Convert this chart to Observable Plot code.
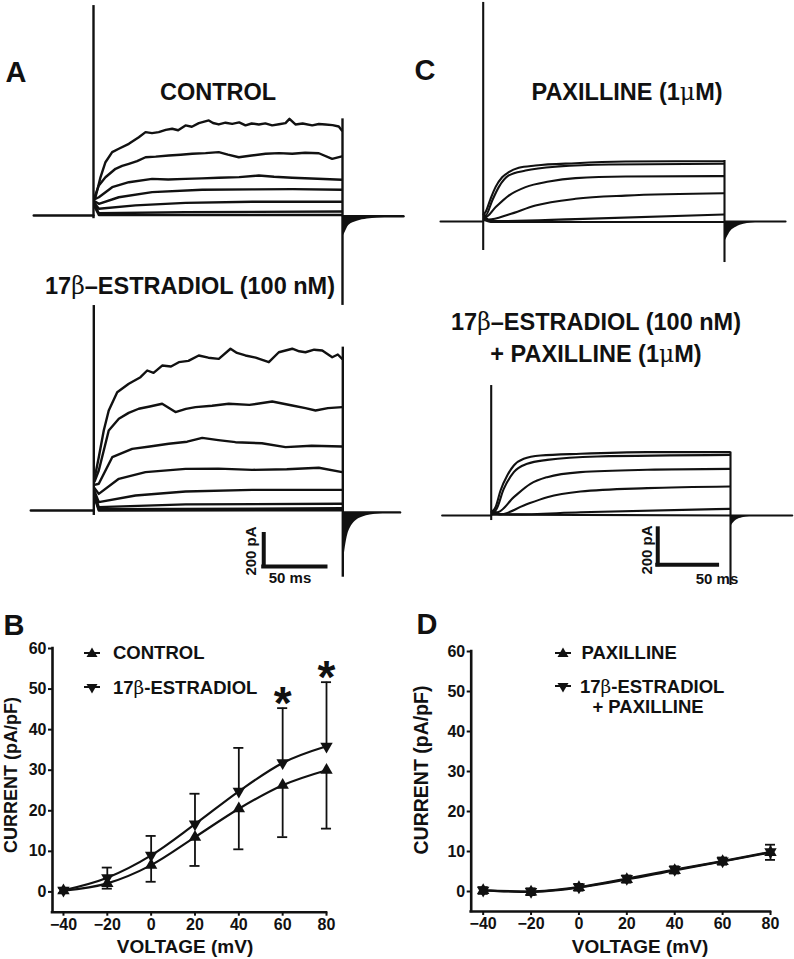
<!DOCTYPE html>
<html><head><meta charset="utf-8">
<script src="https://cdn.jsdelivr.net/npm/d3@7"></script>
<script src="https://cdn.jsdelivr.net/npm/@observablehq/plot@0.6"></script>
<style>
body{margin:0;background:#fff}
#fig{position:relative;width:794px;height:959px;overflow:hidden;background:#fff;font-family:"Liberation Sans",Arial,sans-serif;font-weight:bold;color:#111}
.abs{position:absolute}
.lbl{position:absolute;white-space:nowrap;line-height:1}
.g{font-family:"DejaVu Serif","Liberation Serif",serif;font-weight:normal}
</style></head><body><div id="fig"></div><script>
// ---------- Panel A: CONTROL traces [time ms, current pA] ----------
const ctrlTraces = [
 [[0.6,110],[1.6,114],[5.6,239],[9.6,333],[15,396],[20.3,417],[28.4,448],[36.4,489],[41.8,521],[47,515],[52.4,521],[58,535],[63.2,542],[68,533],[73.9,563],[79,555],[84.6,577],[92.6,594],[96,578],[100.6,569],[106,580],[111.4,573],[117,582],[122.1,563],[127,575],[132.8,569],[138,576],[143.5,563],[149,570],[154.2,577],[157.4,604],[162.2,569],[168,575],[175.7,563],[181,572],[186.3,569],[192,565],[197,556],[199.5,531]],
 [[0.6,110],[4.3,188],[9.6,239],[17.7,292],[23,310],[28.4,323],[35,340],[41.8,364],[50,368],[60.5,375],[70,380],[79.3,386],[90,390],[100.6,396],[108,380],[116.7,364],[127,375],[138.2,386],[149,390],[159.6,386],[170,392],[181,389],[191.7,354],[199.5,369]],
 [[0.6,100],[4.3,114],[15,177],[28.4,208],[47.1,229],[60,225],[73.9,229],[87,232],[100.6,236],[117,240],[132.8,250],[145,242],[159.6,236],[180,230],[199.5,223]],
 [[0.6,90],[4.3,73],[20.3,114],[47.1,146],[87.3,161],[127.5,163],[160,165],[199.5,161]],
 [[0.6,80],[4.3,42],[33.7,63],[73.9,79],[127.5,86],[199.5,86]],
 [[0.6,70],[4.3,14],[73.9,21],[199.5,25]],
 [[0.6,60],[4.3,3],[199.5,3]]
];
const ctrlPre = [[-48,0],[0,0]];
const ctrlPost = [[200.5,-5],[249,-5]];
const ctrlTail = [[200.5,-130],[201.6,-114],[205,-62],[211.8,-36],[220,-22],[228,-15],[240,-9],[249,-6]];
const ctrlSpikes = [[0,-20,1312],[200,-562,604]];

// ---------- Panel A: 17beta-ESTRADIOL traces ----------
const e2Traces = [
 [[0.6,200],[4.0,333],[8.0,500],[12.0,625],[18.8,739],[28.1,792],[37.5,833],[42.9,875],[48,860],[54.9,906],[62,900],[68.3,927],[76,935],[84.3,969],[92,955],[100.4,948],[109.8,1011],[115,985],[121.8,969],[130,955],[140.6,927],[148.6,989],[159.4,1011],[165,995],[170,989],[177,1005],[183.5,1000],[191.5,958],[196,975],[199.5,948]],
 [[0.6,180],[4.0,250],[12,500],[20.1,573],[28,610],[36.1,636],[45,650],[54.9,667],[65.6,615],[74,635],[81.7,646],[95,655],[108.4,667],[125,660],[143.3,681],[159.4,656],[170,640],[178.1,625],[188,640],[199.5,646]],
 [[0.6,160],[4,167],[14.8,333],[30.8,385],[45,400],[60.2,417],[75,430],[87.1,454],[100,440],[113.8,427],[135,420],[154,396],[175,405],[199.5,400]],
 [[0.6,140],[4,104],[20.1,198],[41.5,240],[73.7,260],[100,262],[127.2,254],[155,258],[180.7,267],[199.5,240]],
 [[0.6,120],[4,52],[33.5,94],[73.7,119],[127.2,129],[199.5,129]],
 [[0.6,100],[4,21],[73.7,38],[199.5,42]],
 [[0.6,90],[4,8],[199.5,14]],
 [[0.6,80],[4,0],[199.5,2]]
];
const e2Pre = [[-50.6,0],[0,0]];
const e2Post = [[200.5,-12],[246,-12]];
const e2Tail = [[200.5,-320],[202,-230],[204,-150],[206,-110],[208,-85],[212,-55],[216,-40],[222,-28],[230,-20],[240,-15],[246,-13]];
const e2Spikes = [[0,-31,1281],[200,-417,1021]];
const e2Bar = [136.5,-350,200,50];   // [t, current, pA size, ms size]

// ---------- Panel C: PAXILLINE traces ----------
const pxTraces = [
 [[0.5,40],[1.9,52],[6.1,126],[10.2,191],[15.7,246],[21.2,274],[29.5,298],[43.3,311],[76.5,324],[117.9,333],[159.4,335],[199.5,335]],
 [[0.5,40],[1.9,33],[7.5,117],[12.9,191],[21.2,256],[35.1,283],[62.7,306],[104.1,317],[199.5,321]],
 [[0.5,40],[1.9,24],[10.2,79],[21.2,144],[35.1,191],[54.4,222],[76.5,241],[117.9,250],[199.5,252]],
 [[0.5,30],[4.6,11],[21.2,39],[43.3,89],[76.5,126],[117.9,144],[199.5,157]],
 [[0.5,20],[7.5,2],[76.5,13],[199.5,39]],
 [[0.5,10],[7.5,-3],[199.5,-3]]
];
const pxPre = [[-35.4,0],[0,0]];
const pxPost = [[200.5,0],[250.6,0]];
const pxTail = [[200.5,-110],[202,-90],[205,-55],[210,-30],[216,-15],[222,-8],[235,-3],[250,-1]];
const pxSpikes = [[0,-161,1217],[200,-228,339]];

// ---------- Panel C: 17beta-ESTRADIOL + PAXILLINE traces ----------
const epTraces = [
 [[0.5,20],[3.6,46],[7.8,139],[13.4,222],[18.9,278],[27.2,315],[41.2,333],[74.6,343],[130.4,352],[199.5,352]],
 [[0.5,20],[3.6,28],[10.5,148],[18.9,241],[30.1,287],[46.8,309],[88.6,328],[199.5,337]],
 [[0.5,20],[5,18],[18.9,102],[32.8,176],[46.8,213],[74.6,241],[130.4,254],[199.5,259]],
 [[0.5,15],[7.8,6],[27.2,56],[46.8,102],[74.6,133],[130.4,152],[199.5,161]],
 [[0.5,10],[18.9,6],[74.6,18],[199.5,37]],
 [[0.5,5],[199.5,0]]
];
const epPre = [[-41,0],[0,0]];
const epPost = [[200.5,0],[251.6,0]];
const epTail = [[200.5,-60],[202,-45],[205,-25],[210,-12],[216,-6],[225,-2],[251,-1]];
const epSpikes = [[0,-28,722],[200,-389,352]];
const epBar = [139.2,-274,200,50];

// ---------- Panels B and D: I-V data ----------
const voltage = [-40,-20,0,20,40,60,80];
const currentTicks = [0,10,20,30,40,50,60];
const ctrlMean = [0.3,2.1,6.6,13.5,20.5,26.3,30.0];
const ctrlLower = [-0.3,0.8,2.5,6.4,10.5,13.5,15.6];
const e2Mean = [0.4,3.5,9.0,16.7,24.8,31.8,35.9];
const e2Upper = [1.0,6.0,13.8,24.2,35.5,45.3,51.7];
const starVolt = [60,80];
const paxMean = [0.3,-0.1,1.0,3.0,5.3,7.5,9.75];
const paxLower = [-0.6,-0.9,0.2,2.2,4.5,6.7,7.9];
const epMean = [0.3,0.0,1.1,3.2,5.5,7.6,9.9];
const epUpper = [1.1,0.8,1.9,4.0,6.3,8.5,11.7];

// ---------- drawing ----------
const fig = document.getElementById("fig");
const INK = "#111";
function place(node, left, top){
  const d = document.createElement("div");
  d.className = "abs"; d.style.left = left + "px"; d.style.top = top + "px";
  d.appendChild(node); fig.appendChild(d);
}
function label(html, x, y, size, rot){
  const d = document.createElement("div");
  d.className = "lbl";
  d.style.left = x + "px"; d.style.top = y + "px"; d.style.fontSize = size + "px";
  d.style.transform = "translate(-50%,-50%)" + (rot ? " rotate(" + rot + "deg)" : "");
  d.innerHTML = html; fig.appendChild(d);
}
function labelLeft(html, x, y, size){
  const d = document.createElement("div");
  d.className = "lbl";
  d.style.left = x + "px"; d.style.top = y + "px"; d.style.fontSize = size + "px";
  d.style.transform = "translate(0,-50%)";
  d.innerHTML = html; fig.appendChild(d);
}
const pts = a => a.map(([t, i]) => ({t, i}));
const traceRows = tr => tr.flatMap((s, k) => s.map(([t, i]) => ({t, i, k})));

function tracePanel(p){
  const {left, top, width, height, x0, y0, pxMs, pxPA, traces, pre, post, tail, spikes, bar, curve, sw} = p;
  const base = post[0][1];
  const marks = [
    Plot.areaY(pts(tail), {x: "t", y1: base, y2: "i", fill: INK, curve: "monotone-x"}),
    Plot.line(pts(pre), {x: "t", y: "i", stroke: INK, strokeWidth: sw}),
    Plot.line(pts(post), {x: "t", y: "i", stroke: INK, strokeWidth: sw}),
    Plot.line(traceRows(traces), {x: "t", y: "i", z: "k", stroke: INK, strokeWidth: sw, curve, strokeLinejoin: "round"}),
    Plot.ruleX(spikes.map(([t, lo, hi]) => ({t, lo, hi})), {x: "t", y1: "lo", y2: "hi", stroke: INK, strokeWidth: sw})
  ];
  if (bar) {
    const b = {t: bar[0], i: bar[1], pA: bar[2], ms: bar[3]};
    marks.push(Plot.ruleX([b], {x: "t", y1: "i", y2: d => d.i + d.pA, stroke: INK, strokeWidth: 4, strokeLinecap: "square"}));
    marks.push(Plot.ruleY([b], {y: "i", x1: "t", x2: d => d.t + d.ms, stroke: INK, strokeWidth: 4, strokeLinecap: "square"}));
  }
  const plot = Plot.plot({
    width, height, marginTop: 0, marginRight: 0, marginBottom: 0, marginLeft: 0,
    x: {domain: [-x0 / pxMs, (width - x0) / pxMs], axis: null},
    y: {domain: [-(height - y0) / pxPA, y0 / pxPA], axis: null},
    style: {background: "transparent", overflow: "visible", maxWidth: "none"},
    marks
  });
  place(plot, left, top);
}

tracePanel({left: 0, top: 0, width: 410, height: 310, x0: 93, y0: 215, pxMs: 1.245, pxPA: 0.16,
  traces: ctrlTraces, pre: ctrlPre, post: ctrlPost, tail: ctrlTail, spikes: ctrlSpikes, curve: "linear", sw: 2.4});
tracePanel({left: 0, top: 295, width: 410, height: 300, x0: 93.3, y0: 215, pxMs: 1.245, pxPA: 0.16,
  traces: e2Traces, pre: e2Pre, post: e2Post, tail: e2Tail, spikes: e2Spikes, bar: e2Bar, curve: "linear", sw: 2.4});
tracePanel({left: 420, top: 0, width: 374, height: 280, x0: 62.7, y0: 221, pxMs: 1.2065, pxPA: 0.18,
  traces: pxTraces, pre: pxPre, post: pxPost, tail: pxTail, spikes: pxSpikes, curve: "monotone-x", sw: 2.1});
tracePanel({left: 420, top: 370, width: 374, height: 230, x0: 70.7, y0: 145, pxMs: 1.1965, pxPA: 0.18,
  traces: epTraces, pre: epPre, post: epPost, tail: epTail, spikes: epSpikes, bar: epBar, curve: "monotone-x", sw: 2.1});

function ivPanel(p){
  const {left, top, width, height, ml, mr, mt, mb, series, stars, cap} = p;
  const marks = [
    Plot.ruleX([-45], {y1: -5, y2: 60, stroke: INK, strokeWidth: 2.6, strokeLinecap: "square"}),
    Plot.ruleY([-5], {x1: -45, x2: 80, stroke: INK, strokeWidth: 2.6, strokeLinecap: "square"}),
    Plot.axisY({ticks: currentTicks, tickSize: 4, tickPadding: 2, label: null, strokeWidth: 2, fontSize: 16, fontWeight: "bold"}),
    Plot.axisX({ticks: voltage, tickSize: 4, tickPadding: 2, label: null, strokeWidth: 2, fontSize: 16, fontWeight: "bold"})
  ];
  for (const s of series) {
    const rows = voltage.map((v, j) => ({v, m: s.mean[j], e: s.bound[j]}));
    marks.push(Plot.ruleX(rows, {x: "v", y1: "m", y2: "e", stroke: INK, strokeWidth: 1.8}));
    marks.push(Plot.ruleY(rows, {y: "e", x1: d => d.v - cap, x2: d => d.v + cap, stroke: INK, strokeWidth: 1.8}));
    marks.push(Plot.line(rows, {x: "v", y: "m", stroke: INK, strokeWidth: 2.2, curve: "monotone-x"}));
    marks.push(Plot.dot(rows, {x: "v", y: "m", symbol: "triangle", r: 4.6, fill: INK, stroke: "none", rotate: s.rot}));
  }
  if (stars) {
    marks.push(Plot.text(stars, {x: "v", y: "e", text: () => "*", fontSize: 46, fontWeight: "bold", lineAnchor: "middle", dy: -4, fill: INK}));
  }
  const plot = Plot.plot({
    width, height, marginLeft: ml, marginRight: mr, marginTop: mt, marginBottom: mb,
    x: {domain: [-45, 80]}, y: {domain: [-5, 60]},
    style: {background: "transparent", overflow: "visible", maxWidth: "none", fontFamily: "'Liberation Sans', Arial, sans-serif", fontSize: "16px", fontWeight: "bold", color: INK},
    marks
  });
  place(plot, left, top);
}

ivPanel({left: 0, top: 600, width: 340, height: 360, ml: 52, mr: 14, mt: 48, mb: 48.3, cap: 2.3,
  series: [{mean: ctrlMean, bound: ctrlLower, rot: 0}, {mean: e2Mean, bound: e2Upper, rot: 180}],
  stars: starVolt.map(v => ({v, e: e2Upper[voltage.indexOf(v)]}))});
ivPanel({left: 400, top: 600, width: 394, height: 360, ml: 70.7, mr: 24, mt: 51, mb: 49, cap: 2.1,
  series: [{mean: paxMean, bound: paxLower, rot: 0}, {mean: epMean, bound: epUpper, rot: 180}]});

// ---------- text ----------
const beta = '<span class="g">&beta;</span>';
const mu = '<span class="g">&mu;</span>';
label("A", 16, 72, 29); label("C", 425, 70, 29);
label("B", 14, 625, 29); label("D", 427, 624, 29);
label("CONTROL", 218, 93, 23.5);
label("17" + beta + "&ndash;ESTRADIOL (100 nM)", 190, 287, 23.5);
label("PAXILLINE (1" + mu + "M)", 627, 93, 23.5);
label("17" + beta + "&ndash;ESTRADIOL (100 nM)", 596, 323, 23.5);
label("+ PAXILLINE (1" + mu + "M)", 596, 355, 23.5);
label("200 pA", 250, 551, 15, -90); label("50 ms", 290, 577, 15);
label("200 pA", 646, 550, 15, -90); label("50 ms", 717, 578, 15);
label("CURRENT (pA/pF)", 11, 775, 18, -90);
label("CURRENT (pA/pF)", 422, 770, 19.5, -90);
label("VOLTAGE (mV)", 185, 946, 19);
label("VOLTAGE (mV)", 640, 946, 19);
function icon(rot){
  return '<svg width="18" height="14" style="display:block"><line x1="1" y1="7" x2="17" y2="7" stroke="#111" stroke-width="2"/>' +
    '<path d="M9,1.5 L14.5,11 L3.5,11Z" fill="#111" transform="rotate(' + rot + ' 9 7.5)"/></svg>';
}
function iconAt(rot, x, y){
  const d = document.createElement("div"); d.className = "abs";
  d.style.left = (x - 9) + "px"; d.style.top = (y - 7) + "px"; d.innerHTML = icon(rot); fig.appendChild(d);
}
iconAt(0, 92, 653); iconAt(180, 92, 687);
labelLeft("CONTROL", 113, 653, 18.5);
labelLeft("17" + beta + "-ESTRADIOL", 113, 687.5, 18.5);
iconAt(0, 563, 653); iconAt(180, 563, 686);
labelLeft("PAXILLINE", 581.5, 653.3, 18.5);
labelLeft("17" + beta + "-ESTRADIOL", 580, 686.7, 18.5);
label("+ PAXILLINE", 648, 706.7, 18.5);
</script></body></html>
